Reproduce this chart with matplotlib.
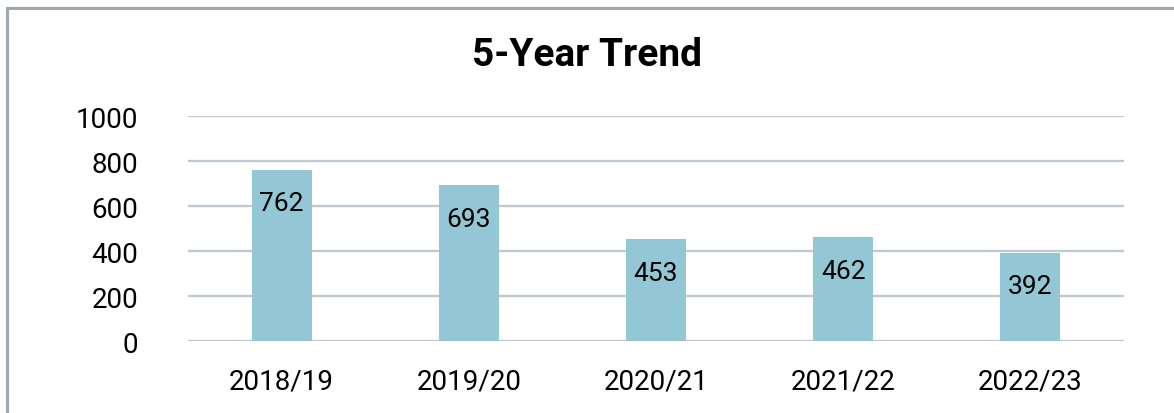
import matplotlib
matplotlib.use("Agg")
import matplotlib.pyplot as plt
from matplotlib.lines import Line2D

categories = ["2018/19", "2019/20", "2020/21", "2021/22", "2022/23"]
values = [762, 693, 453, 462, 392]
yticks = [0, 200, 400, 600, 800, 1000]
title = "5-Year Trend"

plt.rcParams['font.family'] = ['Liberation Sans Narrow', 'Roboto', 'DejaVu Sans']

W, H, DPI = 1174, 414, 100
fig = plt.figure(figsize=(W / DPI, H / DPI), dpi=DPI)
ax = fig.add_axes([188 / W, 1 - 342.3 / H, (1124 - 188) / W, (342.3 - 117.3) / H])

bar_color = "#94C7D5"
grid_color = "#BFC9D1"

x = list(range(len(categories)))
bars = ax.bar(x, values, width=0.32, color=bar_color, zorder=2)
for yt in yticks:
    ax.axhline(yt, color=grid_color, linewidth=1.7, zorder=1)

for rect, v in zip(bars, values):
    ax.annotate(str(v), xy=(rect.get_x() + rect.get_width() / 2, v),
                xytext=(0, -24), textcoords="offset points",
                ha="center", va="center", fontsize=19, color="black", zorder=3)

ax.set_xlim(-0.5, len(categories) - 0.5)
ax.set_ylim(0, 1000)
ax.set_yticks(yticks)
ax.set_yticklabels([str(t) for t in yticks], fontsize=20)
ax.set_xticks(x)
ax.set_xticklabels(categories, fontsize=20)
ax.tick_params(axis="y", length=0, pad=36)
ax.tick_params(axis="x", length=0, pad=19)
for s in ax.spines.values():
    s.set_visible(False)

fig.text(0.5, 1 - 55 / H, title, ha="center", va="center", fontsize=28, fontweight="bold")

border_color = "#9EA8B1"
fig.add_artist(Line2D([6.5 / W, 1.0], [1 - 8.5 / H, 1 - 8.5 / H], color=border_color, linewidth=2.2,
                      transform=fig.transFigure))
fig.add_artist(Line2D([6.5 / W, 6.5 / W], [0, 1 - 8.5 / H], color=border_color, linewidth=2.2,
                      transform=fig.transFigure))

fig.savefig("out.png", dpi=DPI)
